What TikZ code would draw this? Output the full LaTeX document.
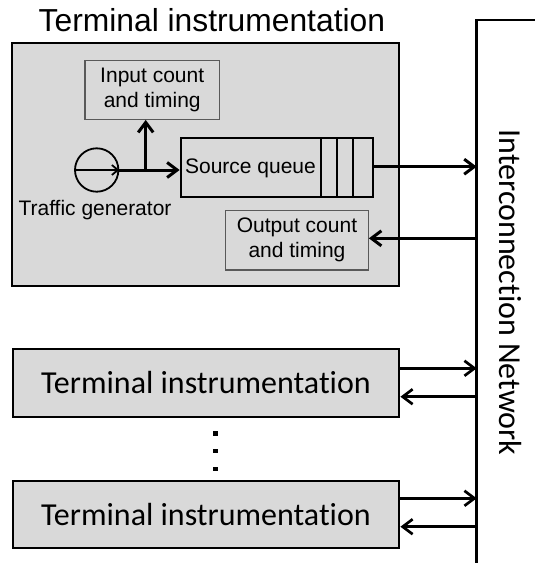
\documentclass[tikz,border=0pt]{standalone}
\usepackage{fontspec}
\setmainfont{Liberation Sans}
\newfontfamily\calib[Ligatures=NoCommon]{Carlito}
\usetikzlibrary{arrows.meta}
\definecolor{boxfill}{HTML}{D9D9D9}
\definecolor{boxline}{HTML}{595959}
\tikzset{
  outerbox/.style={draw=black, line width=2.2pt, fill=boxfill, inner sep=0pt},
  innerbox/.style={draw=boxline, line width=1.2pt, fill=boxfill, inner sep=0pt,
    align=center, font=\fontsize{21}{25}\selectfont},
  queuebox/.style={draw=black, line width=2.2pt, inner sep=0pt},
  bigarrow/.style={line width=3pt, -{Straight Barb[length=10pt,width=15pt]}},
  netarrow/.style={line width=2.7pt, -{Straight Barb[length=10pt,width=15pt]}},
  genarrow/.style={line width=1.8pt, -{Straight Barb[length=6pt,width=10pt]}},
  termlabel/.style={font=\calib\fontsize{32}{36}\selectfont},
  dotmark/.style={fill=black, inner sep=0pt, minimum size=4.5pt},
}
\begin{document}
\begin{tikzpicture}[x=1pt, y=-1pt]
\useasboundingbox (0,0) rectangle (535,563);

% detailed terminal instrumentation block
\node[anchor=base west, inner sep=0pt, font=\fontsize{31.8}{36}\selectfont]
  (title) at (38.5,31.7) {Terminal instrumentation};
\node[outerbox, minimum width=386.4pt, minimum height=243.3pt] (main) at (205.5,164.7) {};

\node[innerbox, minimum width=134.3pt, minimum height=58.6pt] (inp) at (152.2,90)
  {Input count\\and timing};
\node[innerbox, minimum width=142.6pt, minimum height=59.3pt] (outp) at (297,240.3)
  {Output count\\and timing};

% source queue with its three slots
\node[queuebox, minimum width=192pt, minimum height=58.4pt] (queue) at (276.7,167.5) {};
\node[font=\fontsize{21}{25}\selectfont, inner sep=0pt] (qlabel) at (250.5,168) {Source queue};
\draw[line width=2.2pt] (321,138.3) -- (321,196.7)
  (336.8,138.3) -- (336.8,196.7)
  (352.7,138.3) -- (352.7,196.7);

% traffic generator
\node[draw=black, line width=1.8pt, circle, minimum size=43.4pt, inner sep=0pt] (gen) at (96.7,170) {};
\node[anchor=base, inner sep=0pt, font=\fontsize{21}{25}\selectfont] (genlabel) at (95,215) {Traffic generator};
\draw[genarrow] (gen.west) -- (gen.east);
\coordinate (split) at (145.7,170);
\draw[bigarrow] (gen.east) -- (queue.west |- gen.east);
\draw[bigarrow] (split) -- (inp.south -| split);

% interconnection network
\coordinate (ntop) at (476.7,20);
\coordinate (nbot) at (476.7,563);
\draw[line width=2.6pt] (nbot) -- (ntop) -- (536,20);
\node[termlabel, rotate=-90, inner sep=0pt] (netlabel) at (510,292.5) {Interconnection Network};

\coordinate (n0o) at (476.7,166.7);
\coordinate (n0i) at (476.7,238.3);
\draw[bigarrow] (queue.east |- n0o) -- (n0o);
\draw[bigarrow] (n0i) -- (outp.east |- n0i);

% further terminals
\node[outerbox, termlabel, minimum width=386.6pt, minimum height=67.4pt] (t1) at (206,383) {Terminal instrumentation};
\node[outerbox, termlabel, minimum width=386.6pt, minimum height=67pt] (t2) at (206,514.2) {Terminal instrumentation};

\coordinate (n1o) at (476.7,368.3);
\coordinate (n1i) at (476.7,396.7);
\coordinate (n2o) at (476.7,498.3);
\coordinate (n2i) at (476.7,526.7);
\draw[netarrow] (t1.east |- n1o) -- (n1o);
\draw[netarrow] (n1i) -- (t1.east |- n1i);
\draw[netarrow] (t2.east |- n2o) -- (n2o);
\draw[netarrow] (n2i) -- (t2.east |- n2i);

% vertical ellipsis
\node[dotmark] (d1) at (215.7,433.3) {};
\node[dotmark] (d2) at (215.7,451) {};
\node[dotmark] (d3) at (215.7,469) {};
\end{tikzpicture}
\end{document}
